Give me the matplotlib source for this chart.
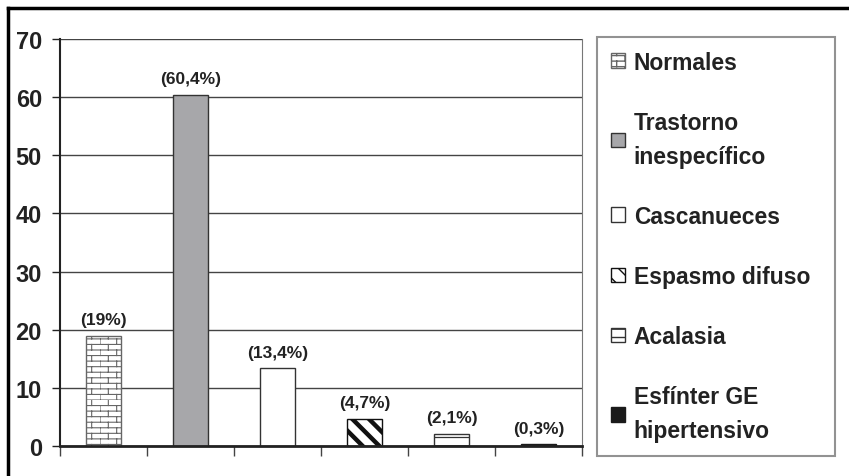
import warnings
import numpy as np
import matplotlib
matplotlib.use("Agg")
import matplotlib.pyplot as plt
from matplotlib import hatch as mhatch
from matplotlib.path import Path
from matplotlib.lines import Line2D
from matplotlib.patches import Patch

warnings.filterwarnings("ignore")

categories = ["Normales", "Trastorno\ninespecífico", "Cascanueces",
              "Espasmo difuso", "Acalasia", "Esfínter GE\nhipertensivo"]
values = [19.0, 60.4, 13.4, 4.7, 2.1, 0.3]
pct_labels = ["(19%)", "(60,4%)", "(13,4%)", "(4,7%)", "(2,1%)", "(0,3%)"]
yticks = [0, 10, 20, 30, 40, 50, 60, 70]

# fill style per category
face = ["white", "#a7a7aa", "white", "white", "white", "#1a1a1a"]
edge = ["#666666", "#333333", "#333333", "#111111", "#333333", "#1a1a1a"]
hatches = ["b", None, None, "\\\\", "--", None]
hatch_lw = [0.8, 1.0, 1.0, 3.2, 0.9, 1.0]


# brick pattern ('b') -----------------------------------------------------------
class BrickHatch(mhatch.HatchPatternBase):
    def __init__(self, hatch, density):
        n = hatch.count("b") * density
        self.rows = 3 * n
        self.cols = n
        self.num_vertices = self.rows * 2 + self.rows * self.cols * 2

    def set_vertices_and_codes(self, vertices, codes):
        r, c = self.rows, self.cols
        ys = np.arange(r) / r
        vertices[0:2 * r:2] = np.column_stack([np.zeros(r), ys])
        vertices[1:2 * r:2] = np.column_stack([np.ones(r), ys])
        k = 2 * r
        for i in range(r):
            for j in range(c):
                x = (j + 0.5 * (i % 2)) / c
                vertices[k] = (x, i / r)
                vertices[k + 1] = (x, (i + 1) / r)
                k += 2
        codes[0::2] = Path.MOVETO
        codes[1::2] = Path.LINETO


mhatch._hatch_types.append(BrickHatch)

plt.rcParams["font.family"] = ["Liberation Sans", "DejaVu Sans"]
plt.rcParams["font.weight"] = "bold"

fig = plt.figure(figsize=(8.49, 4.77), dpi=100)
ax = fig.add_axes([60 / 849, 1 - 447 / 477, (582 - 60) / 849, (447 - 40) / 477])

x = np.arange(len(categories))
bars = ax.bar(x, values, width=0.41, color=face, edgecolor=edge, linewidth=1.0, zorder=3)
for b, h, lw in zip(bars, hatches, hatch_lw):
    if h:
        b.set_hatch(h)
        if hasattr(b, "set_hatch_linewidth"):
            b.set_hatch_linewidth(lw)

ax.bar_label(bars, labels=pct_labels, padding=6, fontsize=12.5,
             fontweight="bold", color="#222222")

ax.set_xlim(-0.5, len(categories) - 0.5)
ax.set_ylim(0, 70)
ax.set_yticks(yticks)
ax.set_xticks(np.arange(len(categories) + 1) - 0.5)
ax.set_xticklabels([])
ax.yaxis.grid(True, color="#444444", linewidth=1.0, zorder=0)
ax.set_axisbelow(True)
ax.tick_params(axis="y", length=6, width=1, pad=7, labelsize=17, colors="#222222")
ax.tick_params(axis="x", length=7, width=1, color="#444444")

ax.spines["left"].set_color("#222222")
ax.spines["left"].set_linewidth(1.5)
ax.spines["bottom"].set_color("#222222")
ax.spines["bottom"].set_linewidth(2)
ax.spines["bottom"].set_zorder(4)
ax.spines["right"].set_color("#777777")
ax.spines["top"].set_visible(False)

# legend ---------------------------------------------------------------------
handles = []
for i in range(len(categories)):
    p = Patch(facecolor=face[i], edgecolor=edge[i], hatch=hatches[i], linewidth=1.0)
    if hatches[i] and hasattr(p, "set_hatch_linewidth"):
        p.set_hatch_linewidth(min(hatch_lw[i], 2.0))
    handles.append(p)

leg = fig.legend(handles, categories, loc="upper left",
                 bbox_to_anchor=(597 / 849, 1 - 38 / 477, (835 - 597) / 849, 0.0),
                 mode="expand", fontsize=16.5, frameon=True, fancybox=False,
                 edgecolor="#777777", handlelength=0.6, handleheight=0.6,
                 handletextpad=0.4, labelspacing=1.62, borderpad=0.6,
                 borderaxespad=0)
leg.get_frame().set_linewidth(1.5)
for t in leg.get_texts():
    t.set_linespacing(1.6)
    t.set_color("#222222")

# outer frame (top and left only visible) -----------------------------------
fig.add_artist(Line2D([8 / 849, 8 / 849], [0, 1 - 9 / 477], color="black", linewidth=2.5))
fig.add_artist(Line2D([8 / 849, 1], [1 - 9 / 477, 1 - 9 / 477], color="black", linewidth=2.5))

fig.savefig("out.png", dpi=100)
